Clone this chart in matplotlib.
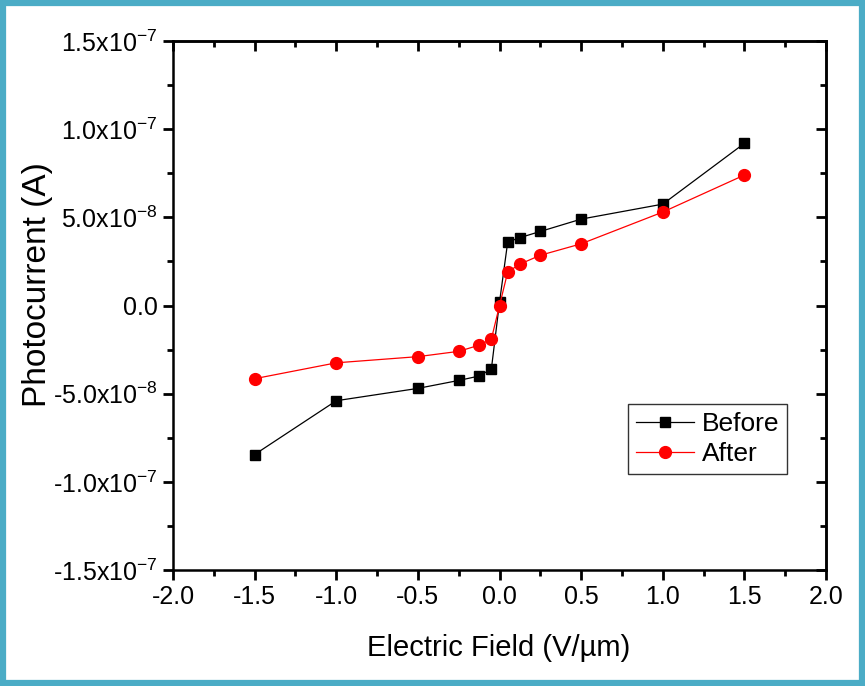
import numpy as np
import matplotlib
matplotlib.use("Agg")
import matplotlib.pyplot as plt
from matplotlib.ticker import FuncFormatter, MultipleLocator
from matplotlib.patches import Rectangle

plt.rcParams['font.family'] = ['Liberation Sans', 'DejaVu Sans']
plt.rcParams['mathtext.fontset'] = 'custom'
plt.rcParams['mathtext.rm'] = 'Liberation Sans'
plt.rcParams['mathtext.it'] = 'Liberation Sans:italic'
plt.rcParams['mathtext.bf'] = 'Liberation Sans:bold'

# electric field values (V/um)
field = [-1.5, -1.0, -0.5, -0.25, -0.125, -0.05, 0.0, 0.05, 0.125, 0.25, 0.5, 1.0, 1.5]

# photocurrent (A)
before = [-8.45e-8, -5.4e-8, -4.7e-8, -4.25e-8, -4.0e-8, -3.6e-8, 0.2e-8,
          3.6e-8, 3.85e-8, 4.2e-8, 4.9e-8, 5.75e-8, 9.2e-8]
after = [-4.15e-8, -3.25e-8, -2.9e-8, -2.6e-8, -2.25e-8, -1.9e-8, 0.0,
         1.9e-8, 2.35e-8, 2.85e-8, 3.5e-8, 5.3e-8, 7.4e-8]


def sci_label(v, pos):
    if abs(v) < 1e-12:
        return "0.0"
    exp = int(np.floor(np.log10(abs(v))))
    mant = v / 10 ** exp
    return "%.1fx10$^{\\mathregular{-%d}}$" % (mant, -exp)


fig = plt.figure(figsize=(8.65, 6.86), dpi=100)
ax = fig.add_axes([0.2, 0.1691, 0.755, 0.7711])

ax.plot(field, before, color='black', lw=0.9, marker='s', markersize=7.5,
        markerfacecolor='black', markeredgecolor='black', label='Before', zorder=3)
ax.plot(field, after, color='red', lw=0.9, marker='o', markersize=8.5,
        markerfacecolor='red', markeredgecolor='red', label='After', zorder=3)

ax.set_xlim(-2.0, 2.0)
ax.set_ylim(-1.5e-7, 1.5e-7)
ax.xaxis.set_major_locator(MultipleLocator(0.5))
ax.xaxis.set_minor_locator(MultipleLocator(0.25))
ax.yaxis.set_major_locator(MultipleLocator(5e-8))
ax.yaxis.set_minor_locator(MultipleLocator(2.5e-8))
ax.yaxis.set_major_formatter(FuncFormatter(sci_label))
ax.xaxis.set_major_formatter(FuncFormatter(lambda v, p: "%.1f" % v))

for s in ax.spines.values():
    s.set_linewidth(1.8)
ax.tick_params(which='major', direction='out', length=7, width=2, labelsize=18, pad=4)
ax.tick_params(which='minor', direction='out', length=4, width=2)

# inward ticks on top and right
top = ax.secondary_xaxis('top')
top.xaxis.set_major_locator(MultipleLocator(0.5))
top.xaxis.set_minor_locator(MultipleLocator(0.25))
top.tick_params(which='major', direction='in', length=7, width=2, labeltop=False)
top.tick_params(which='minor', direction='in', length=4, width=2)
top.spines['top'].set_linewidth(1.8)
right = ax.secondary_yaxis('right')
right.yaxis.set_major_locator(MultipleLocator(5e-8))
right.yaxis.set_minor_locator(MultipleLocator(2.5e-8))
right.tick_params(which='major', direction='in', length=7, width=2, labelright=False)
right.tick_params(which='minor', direction='in', length=4, width=2)
right.spines['right'].set_linewidth(1.8)

# axis titles
fig.text(0.5763, 0.055, "Electric Field (V/\u00b5m)", fontsize=21, ha='center', va='center')
fig.text(0.043, 0.5855, "Photocurrent (A)", fontsize=24, rotation=90, ha='center', va='center')

leg = ax.legend(loc='lower right', bbox_to_anchor=(0.94, 0.181), fontsize=19,
                frameon=True, fancybox=False, edgecolor='black', handlelength=2.2,
                borderpad=0.3, labelspacing=0.25, handletextpad=0.3, borderaxespad=0)
leg.get_frame().set_linewidth(1.0)

# light blue frame around the whole picture
fig.patches.append(Rectangle((0.004, 0.004), 0.992, 0.992, transform=fig.transFigure,
                             fill=False, edgecolor='#4BACC6', linewidth=4.5))

fig.savefig("out.png", dpi=100)
